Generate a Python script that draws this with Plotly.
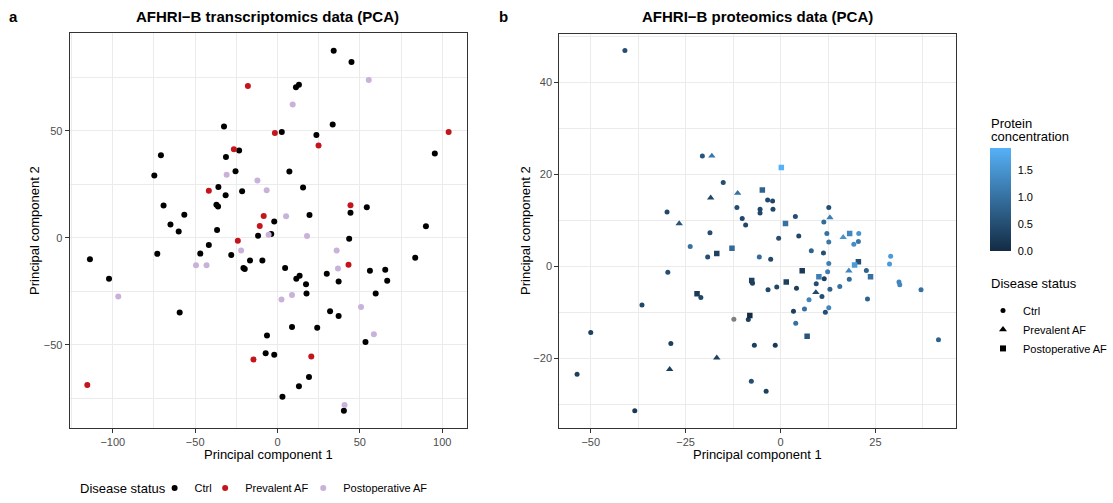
import plotly.graph_objects as go

# ---- Transcriptomics PCA (panel a) ----
tx_ctrl_pc1 = [-32.5, -70.8, -23.3, -31.3, -74.8, -25.5, -35.9, -21.5, -31.5, -69.2, -37.1, -36.1,
               -56.6, -65.0, -2.0, 34.1, 44.9, 11.2, 13.0, 33.5, 2.6, 23.6, 95.5, 7.2, 15.5, 44.3,
               54.2, 19.4, 90.1, -60.0, -36.7, -11.8, -3.8, -41.7, -46.9, -73.0, -28.1, -16.7,
               -9.2, -20.7, -19.9, -113.9, -102.3, -59.4, -6.4, -7.2, -2.0, 43.5, 4.6, 11.4, 13.4,
               17.3, 17.6, 29.9, 37.1, 56.1, 65.4, 66.6, 59.6, 83.6, 31.9, 37.1, 8.8, 24.1, 53.4,
               19.1, 13.0, 3.0, 40.3]
tx_ctrl_pc2 = [52.0, 38.6, 40.8, 37.7, 29.1, 31.1, 23.7, 21.7, 19.8, 15.1, 15.4, 14.6,
               10.8, 6.2, 7.6, 87.4, 82.1, 70.3, 71.5, 52.9, 49.4, 48.0, 39.4, 30.9, 23.5, 11.7,
               14.2, 10.6, 5.4, 2.9, 3.6, 0.9, 1.7, -3.4, -7.4, -7.5, -8.0, -10.6,
               -10.6, -14.1, -14.6, -10.0, -19.2, -34.9, -45.7, -54.0, -54.6, -0.5, -14.1, -19.2, -17.8,
               -21.7, -26.0, -16.8, -20.4, -15.4, -14.9, -20.1, -26.1, -9.4, -34.3, -36.6, -41.7, -42.1, -48.7,
               -65.1, -69.4, -74.3, -80.8]
tx_prev_pc1 = [-18.0, -1.6, -26.5, -41.7, -8.4, -10.8, 24.9, 103.9, 44.3, -24.1, -14.6, -115.5, 43.1, 20.5]
tx_prev_pc2 = [70.9, 48.9, 41.4, 22.0, 10.2, 5.5, 43.1, 49.4, 15.2, -1.4, -56.9, -68.8, -12.6, -55.5]
tx_post_pc1 = [-30.9, -12.2, -6.6, 55.4, 9.2, 5.2, -5.4, -22.1, -49.5, -43.1, -96.7, 17.9, 35.9, 36.7,
               2.4, 8.8, 50.7, 58.5, 40.7]
tx_post_pc2 = [29.4, 26.8, 22.2, 73.7, 62.3, 10.0, 1.4, -6.0, -12.9, -12.9, -27.5, 0.8, -6.0, -14.4,
               -28.9, -26.8, -32.3, -45.1, -78.1]

# ---- Proteomics PCA (panel b) ----
pr_ctrl_pc1 = [-41.0, -20.6, -15.1, -11.5, -29.9, -10.1, -18.6, -23.8, -19.2, -29.7, -21.0, -36.5,
               -50.0, -28.9, -53.6, -38.4, -3.4, -2.1, -5.4, -5.4, -2.0, 12.7, -9.2, 3.9, 11.4,
               -0.5, 4.8, 12.2, 20.6, 20.5, 19.3, 12.7, -5.6, -2.6, 8.1, 11.3, 29.0, 28.7, 12.7,
               12.4, 11.5, 22.6, 18.1, -7.4, -1.0, -3.3, 4.2, 9.4, 13.0, 15.6, 10.9, 22.9, 31.2,
               31.4, 37.0, 7.5, 6.3, 12.7, 3.4, 11.8, -8.5, 4.0, -6.9, -1.4, 41.6, -7.7, -3.8]
pr_ctrl_pc2 = [46.9, 24.0, 18.2, 12.8, 11.8, 10.4, 7.3, 4.3, 2.0, -1.3, -6.8, -8.4,
               -14.4, -16.8, -23.5, -31.4, 14.4, 14.2, 12.4, 11.6, 12.4, 12.8, 9.0, 10.8, 9.6,
               6.1, 6.6, 7.1, 7.1, 5.4, 4.8, 5.3, 2.0, 1.5, 3.4, 2.9, 2.2, 0.5, 0.6,
               -1.2, -2.7, -0.9, -2.8, -3.7, -4.5, -5.1, -4.8, -3.8, -5.0, -4.4, -6.6, -7.1, -3.4,
               -4.0, -5.1, -7.3, -9.3, -9.0, -9.8, -10.0, -11.6, -12.4, -17.2, -17.2, -16.0, -25.0, -27.2]
pr_ctrl_conc = [0.5, 0.6, 0.5, 0.5, 0.4, 0.4, 0.5, 1.0, 0.5, 0.5, 0.4, 0.4,
                0.3, 0.3, 0.3, 0.2, 0.4, 0.4, 0.4, 0.4, 0.4, 0.5, 0.4, 0.5, 0.9,
                0.5, 0.4, 1.0, 1.5, 1.1, 1.4, 1.1, 0.9, 0.4, 0.8, 0.5, 1.6, 1.6, 1.2,
                1.2, 0.3, 0.8, 0.9, 0.3, 0.4, 0.4, 0.3, 0.5, 0.8, 1.0, 0.5, 0.8, 1.3,
                1.3, 1.0, 1.3, 1.0, 1.3, 0.3, 0.5, 0.3, 1.0, 0.3, 0.2, 0.8, 0.5, 0.3]
# control sample without a concentration value (drawn in grey)
pr_na_pc1 = [-12.3]
pr_na_pc2 = [-11.5]

pr_prev_pc1 = [-18.1, -11.3, -18.4, -26.7, 13.0, 16.5, 18.0, 9.3, -16.8, -29.2]
pr_prev_pc2 = [24.0, 15.9, 14.9, 9.3, 10.6, 6.3, -1.0, -5.7, -19.9, -22.4]
pr_prev_conc = [1.1, 1.0, 0.4, 0.6, 1.2, 1.5, 1.3, 0.4, 0.3, 0.3]

pr_post_pc1 = [0.2, -4.8, 1.3, 18.2, -16.8, -12.8, -22.0, 20.5, 19.5, 5.7, 10.1, 23.7, -7.6, 1.5, -8.1, 7.0]
pr_post_pc2 = [21.5, 16.6, 9.3, 7.1, 2.8, 3.9, -6.0, 1.0, 0.3, -1.0, -2.3, -2.3, -3.1, -3.4, -10.7, -15.2]
pr_post_conc = [1.91, 0.8, 1.0, 1.3, 0.3, 0.9, 0.2, 0.5, 1.6, 0.2, 1.2, 1.0, 0.3, 0.3, 0.02, 0.6]

status_labels = ["Ctrl", "Prevalent AF", "Postoperative AF"]
status_colors = ["#000000", "#C4151C", "#C9B2D9"]
status_symbols = ["circle", "triangle-up", "square"]
colorbar_ticks = [0.0, 0.5, 1.0, 1.5]

W, H = 1113, 503
FONT = "Liberation Sans, Arial, sans-serif"
GRID = "#EBEBEB"
BORDER = "#333333"
BLUES = [[0, "#132B43"], [1, "#56B1F7"]]
CMIN, CMAX = 0.0, 1.91


def px_x(p):
    return p / W


def px_y(p):
    return 1 - p / H


fig = go.Figure()

# one legend per status key under panel a, so each key sits where it should
bottom_legends = ["legend", "legend3", "legend4"]

# panel a: transcriptomics
for lab, col, lg, xs, ys in zip(status_labels, status_colors, bottom_legends,
                                [tx_ctrl_pc1, tx_prev_pc1, tx_post_pc1],
                                [tx_ctrl_pc2, tx_prev_pc2, tx_post_pc2]):
    fig.add_trace(go.Scatter(
        x=xs, y=ys, mode="markers", name=lab, legend=lg,
        marker=dict(color=col, size=6, line=dict(width=0)),
        xaxis="x", yaxis="y", showlegend=True,
    ))

# panel b: proteomics, colour = protein concentration
fig.add_trace(go.Scatter(
    x=pr_na_pc1, y=pr_na_pc2, mode="markers", showlegend=False,
    marker=dict(color="#7F7F7F", size=5, symbol="circle", line=dict(width=0)),
    xaxis="x2", yaxis="y2",
))
first = True
for sym, xs, ys, cs, sz in zip(status_symbols,
                               [pr_ctrl_pc1, pr_prev_pc1, pr_post_pc1],
                               [pr_ctrl_pc2, pr_prev_pc2, pr_post_pc2],
                               [pr_ctrl_conc, pr_prev_conc, pr_post_conc],
                               [5, 6.5, 5.5]):
    marker = dict(color=cs, colorscale=BLUES, cmin=CMIN, cmax=CMAX, size=sz,
                  symbol=sym, line=dict(width=0))
    if first:
        marker.update(showscale=True, colorbar=dict(
            thickness=21, thicknessmode="pixels",
            len=103.3, lenmode="pixels",
            x=px_x(999), xanchor="left", xpad=0,
            y=px_y(253.8), yanchor="bottom", ypad=0,
            outlinewidth=0,
            tickvals=colorbar_ticks, ticktext=[f"{v:.1f}" for v in colorbar_ticks],
            ticks="outside", ticklen=5, tickcolor="#FFFFFF", tickwidth=1,
            tickfont=dict(size=11, color="#000000", family=FONT),
        ))
        first = False
    fig.add_trace(go.Scatter(
        x=xs, y=ys, mode="markers", showlegend=False,
        marker=marker, xaxis="x2", yaxis="y2",
    ))

# legend keys for the shape legend of panel b
for lab, sym, sz in zip(status_labels, status_symbols, [5, 7, 6]):
    fig.add_trace(go.Scatter(
        x=[None], y=[None], mode="markers", name=lab, legend="legend2",
        marker=dict(color="#000000", size=sz, symbol=sym),
        xaxis="x2", yaxis="y2", showlegend=True,
    ))

tickfont = dict(size=11, color="#4D4D4D", family=FONT)


def axis(domain, rng, dtick, minor, anchor):
    return dict(
        domain=domain, range=rng, dtick=dtick, tick0=0, anchor=anchor,
        showgrid=True, gridcolor=GRID, gridwidth=1,
        minor=dict(dtick=minor, showgrid=True, gridcolor=GRID, gridwidth=0.6),
        zeroline=False, showline=True, mirror=True, linecolor=BORDER, linewidth=1,
        ticks="outside", ticklen=4, tickcolor=BORDER, tickwidth=1,
        tickfont=tickfont,
    )


legend_font = dict(size=11, family=FONT, color="#000000")


def bottom_legend(xpix):
    return dict(orientation="h", x=px_x(xpix), xanchor="left", y=px_y(494), yanchor="middle",
                font=legend_font, bgcolor="rgba(0,0,0,0)", itemwidth=30)


fig.update_layout(
    width=W, height=H,
    margin=dict(l=0, r=0, t=0, b=0),
    paper_bgcolor="#FFFFFF", plot_bgcolor="#FFFFFF",
    font=dict(family=FONT, color="#000000"),
    xaxis=axis([px_x(70.3), px_x(471)], [-126.2, 114.9], 50, 25, "y"),
    yaxis=axis([px_y(433), px_y(33.3)], [-88.8, 95.7], 50, 25, "x"),
    xaxis2=axis([px_x(564.3), px_x(965)], [-58.3, 46.3], 25, 12.5, "y2"),
    yaxis2=axis([px_y(433.3), px_y(34)], [-35.2, 50.6], 20, 10, "x2"),
    legend=bottom_legend(156),
    legend3=bottom_legend(207),
    legend4=bottom_legend(306),
    legend2=dict(
        orientation="v", x=px_x(992), xanchor="left", y=px_y(299.5), yanchor="top",
        font=legend_font, bgcolor="rgba(0,0,0,0)", itemwidth=30,
    ),
)

annotations = [
    dict(text="<b>a</b>", x=px_x(14), y=px_y(17), xanchor="center", yanchor="middle",
         font=dict(size=15)),
    dict(text="<b>b</b>", x=px_x(508), y=px_y(17), xanchor="center", yanchor="middle",
         font=dict(size=15)),
    dict(text="<b>AFHRI−B transcriptomics data (PCA)</b>", x=px_x(270.2), y=px_y(17),
         xanchor="center", yanchor="middle", font=dict(size=15)),
    dict(text="<b>AFHRI−B proteomics data (PCA)</b>", x=px_x(764.7), y=px_y(17),
         xanchor="center", yanchor="middle", font=dict(size=15)),
    dict(text="Principal component 1", x=px_x(270.6), y=px_y(460),
         xanchor="center", yanchor="middle", font=dict(size=13)),
    dict(text="Principal component 1", x=px_x(764.7), y=px_y(460),
         xanchor="center", yanchor="middle", font=dict(size=13)),
    dict(text="Principal component 2", x=px_x(35), y=px_y(233), textangle=-90,
         xanchor="center", yanchor="middle", font=dict(size=13)),
    dict(text="Principal component 2", x=px_x(530), y=px_y(233.5), textangle=-90,
         xanchor="center", yanchor="middle", font=dict(size=13)),
    dict(text="Disease status", x=px_x(79), y=px_y(494), xanchor="left", yanchor="middle",
         font=dict(size=13)),
    dict(text="Disease status", x=px_x(998), y=px_y(287), xanchor="left", yanchor="middle",
         font=dict(size=13)),
    dict(text="Protein", x=px_x(998), y=px_y(125), xanchor="left", yanchor="middle",
         font=dict(size=13)),
    dict(text="concentration", x=px_x(998), y=px_y(138.5), xanchor="left", yanchor="middle",
         font=dict(size=13)),
]
for a in annotations:
    a.update(xref="paper", yref="paper", showarrow=False)
    a["font"].update(family=FONT, color="#000000")
fig.update_layout(annotations=annotations)

fig.write_html("out.html")
